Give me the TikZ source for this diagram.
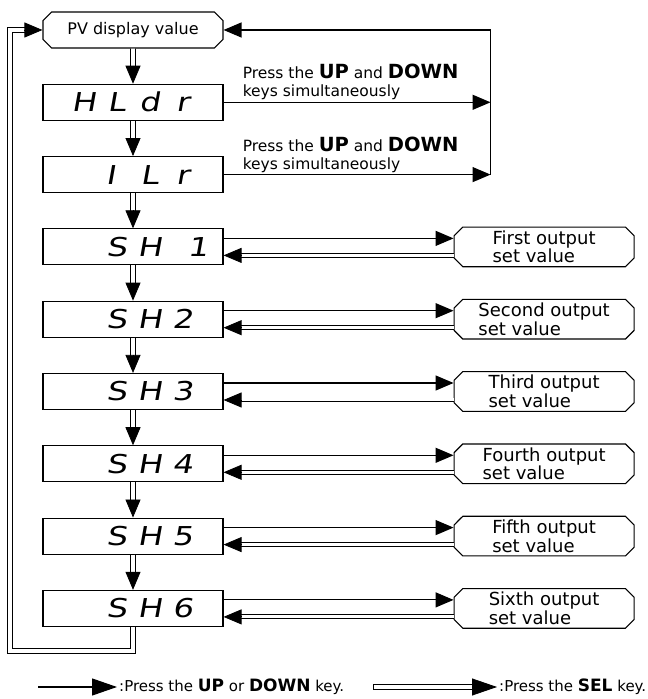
\documentclass[tikz,border=0pt]{standalone}
\usepackage{fontspec}
\setmainfont{DejaVu Sans}
\newfontfamily\segfont{DejaVu Sans}[FakeSlant=0.18,FakeStretch=1.25]
\usetikzlibrary{arrows.meta}
\usetikzlibrary{positioning}
\usetikzlibrary{shapes.misc}

\newcommand{\dispval}[4]{\makebox[33pt]{#1}\makebox[33pt]{#2}\makebox[33pt]{#3}\makebox[33pt]{#4}}
\newcommand{\keyname}[1]{{\fontsize{19.5}{19.5}\selectfont\bfseries #1}}

\begin{document}
\begin{tikzpicture}[x=1pt,y=1pt,node distance=35.2pt,
    headtip/.style={-{Triangle[length=18pt,width=15pt]}},
    keyline/.style={line width=1.2pt,headtip},
    tiponly/.style={line width=0.8pt,headtip},
    selline/.style={double,double distance=3pt,line width=0.9pt,shorten >=17pt},
    stepline/.style={double,double distance=3.8pt,line width=0.9pt,shorten >=17pt},
    disp/.style={draw,line width=1.1pt,minimum width=180pt,minimum height=36pt,inner sep=0pt,
      font=\segfont\fontsize{26}{26}\selectfont},
    valbox/.style={draw,line width=1.1pt,chamfered rectangle,chamfered rectangle xsep=5pt,
      minimum width=180pt,minimum height=36pt,inner sep=0pt,align=left},
    presslabel/.style={anchor=south west,inner sep=0pt,align=left,font=\fontsize{15.5}{18}\selectfont},
    legendtext/.style={anchor=west,inner sep=2pt,font=\fontsize{15}{15}\selectfont}]
  \useasboundingbox (0,0) rectangle (648,699);

  % display sequence
  \node[valbox,font=\fontsize{16}{16}\selectfont] (pv) at (133,669) {PV display value};
  \node[disp] (hldr) [below=of pv] {\dispval{H}{L}{d}{r}};
  \node[disp] (ilr) [below=of hldr] {\dispval{}{\makebox[22pt][l]{I}}{L}{r}};
  \node[disp] (sh1) [below=of ilr] {\dispval{}{S}{H}{\makebox[33pt][r]{1\kern-9pt}}};
  \node[disp] (sh2) [below=of sh1] {\dispval{}{S}{H}{2}};
  \node[disp] (sh3) [below=of sh2] {\dispval{}{S}{H}{3}};
  \node[disp] (sh4) [below=of sh3] {\dispval{}{S}{H}{4}};
  \node[disp] (sh5) [below=of sh4] {\dispval{}{S}{H}{5}};
  \node[disp] (sh6) [below=of sh5] {\dispval{}{S}{H}{6}};

  % output set values
  \node[valbox,font=\fontsize{18}{13}\selectfont] (set1) [right=230pt of sh1] {First output\\set value};
  \node[valbox,font=\fontsize{18}{13}\selectfont] (set2) [right=230pt of sh2] {Second output\\set value};
  \node[valbox,font=\fontsize{18}{13}\selectfont] (set3) [right=230pt of sh3] {Third output\\set value};
  \node[valbox,font=\fontsize{18}{13}\selectfont] (set4) [right=230pt of sh4] {Fourth output\\set value};
  \node[valbox,font=\fontsize{18}{13}\selectfont] (set5) [right=230pt of sh5] {Fifth output\\set value};
  \node[valbox,font=\fontsize{18}{13}\selectfont] (set6) [right=230pt of sh6] {Sixth output\\set value};

  % SEL steps, heads drawn on their own
  \draw[stepline] (pv) -- (hldr);
  \draw[tiponly] ([yshift=18pt]hldr.north) -- (hldr.north);
  \draw[stepline] (hldr) -- (ilr);
  \draw[tiponly] ([yshift=18pt]ilr.north) -- (ilr.north);
  \draw[stepline] (ilr) -- (sh1);
  \draw[tiponly] ([yshift=18pt]sh1.north) -- (sh1.north);
  \draw[stepline] (sh1) -- (sh2);
  \draw[tiponly] ([yshift=18pt]sh2.north) -- (sh2.north);
  \draw[stepline] (sh2) -- (sh3);
  \draw[tiponly] ([yshift=18pt]sh3.north) -- (sh3.north);
  \draw[stepline] (sh3) -- (sh4);
  \draw[tiponly] ([yshift=18pt]sh4.north) -- (sh4.north);
  \draw[stepline] (sh4) -- (sh5);
  \draw[tiponly] ([yshift=18pt]sh5.north) -- (sh5.north);
  \draw[stepline] (sh5) -- (sh6);
  \draw[tiponly] ([yshift=18pt]sh6.north) -- (sh6.north);
  \coordinate (loopb) at ([yshift=-24pt]sh6.south);
  \coordinate (loopt) at ([xshift=-32.5pt]pv.west);
  \draw[stepline] (sh6.south) -- (loopb) -| (loopt) -- (pv.west);
  \draw[tiponly] ([xshift=-18pt]pv.west) -- (pv.west);

  % UP and DOWN together
  \coordinate (back) at ([xshift=267pt]pv.east);
  \draw[keyline] (hldr.east) -- (hldr.east -| back);
  \draw[keyline] (ilr.east) -- (ilr.east -| back);
  \draw[keyline] (ilr.east -| back) -- (back) -- (pv.east);
  \node[presslabel] (hint1) at ([xshift=19pt,yshift=2pt]hldr.east) {Press the \keyname{UP} and \keyname{DOWN}\\keys simultaneously};
  \node[presslabel] (hint2) at ([xshift=19pt,yshift=2pt]ilr.east) {Press the \keyname{UP} and \keyname{DOWN}\\keys simultaneously};

  % to and from the set values
  \draw[keyline] ([yshift=8.5pt]sh1.east) -- ([yshift=8.5pt]set1.west);
  \draw[selline] ([yshift=-8.5pt]set1.west) -- ([yshift=-8.5pt]sh1.east);
  \draw[tiponly] ([xshift=18pt,yshift=-8.5pt]sh1.east) -- ([yshift=-8.5pt]sh1.east);
  \draw[keyline] ([yshift=8.5pt]sh2.east) -- ([yshift=8.5pt]set2.west);
  \draw[selline] ([yshift=-8.5pt]set2.west) -- ([yshift=-8.5pt]sh2.east);
  \draw[tiponly] ([xshift=18pt,yshift=-8.5pt]sh2.east) -- ([yshift=-8.5pt]sh2.east);
  \draw[keyline] ([yshift=8.5pt]sh3.east) -- ([yshift=8.5pt]set3.west);
  \draw[selline] ([yshift=-8.5pt]set3.west) -- ([yshift=-8.5pt]sh3.east);
  \draw[tiponly] ([xshift=18pt,yshift=-8.5pt]sh3.east) -- ([yshift=-8.5pt]sh3.east);
  \draw[keyline] ([yshift=8.5pt]sh4.east) -- ([yshift=8.5pt]set4.west);
  \draw[selline] ([yshift=-8.5pt]set4.west) -- ([yshift=-8.5pt]sh4.east);
  \draw[tiponly] ([xshift=18pt,yshift=-8.5pt]sh4.east) -- ([yshift=-8.5pt]sh4.east);
  \draw[keyline] ([yshift=8.5pt]sh5.east) -- ([yshift=8.5pt]set5.west);
  \draw[selline] ([yshift=-8.5pt]set5.west) -- ([yshift=-8.5pt]sh5.east);
  \draw[tiponly] ([xshift=18pt,yshift=-8.5pt]sh5.east) -- ([yshift=-8.5pt]sh5.east);
  \draw[keyline] ([yshift=8.5pt]sh6.east) -- ([yshift=8.5pt]set6.west);
  \draw[selline] ([yshift=-8.5pt]set6.west) -- ([yshift=-8.5pt]sh6.east);
  \draw[tiponly] ([xshift=18pt,yshift=-8.5pt]sh6.east) -- ([yshift=-8.5pt]sh6.east);

  % legend
  \coordinate (keyfrom) at (38,12);
  \coordinate (keyto) at (117,12);
  \draw[line width=1.2pt,-{Triangle[length=25pt,width=17pt]}] (keyfrom) -- (keyto);
  \node[legendtext] (keytext) at (keyto) {:Press the \textbf{\fontsize{17}{17}\selectfont UP} or \textbf{\fontsize{17}{17}\selectfont DOWN} key.};
  \coordinate (selfrom) at (373,12);
  \coordinate (selto) at (497,12);
  \draw[line width=0.9pt] ([yshift=-2.8pt]selfrom) rectangle ([xshift=-24pt,yshift=2.8pt]selto);
  \draw[line width=0.8pt,-{Triangle[length=25pt,width=17pt]}] ([xshift=-25pt]selto) -- (selto);
  \node[legendtext] (seltext) at (selto) {:Press the \textbf{\fontsize{17}{17}\selectfont SEL} key.};
\end{tikzpicture}
\end{document}
